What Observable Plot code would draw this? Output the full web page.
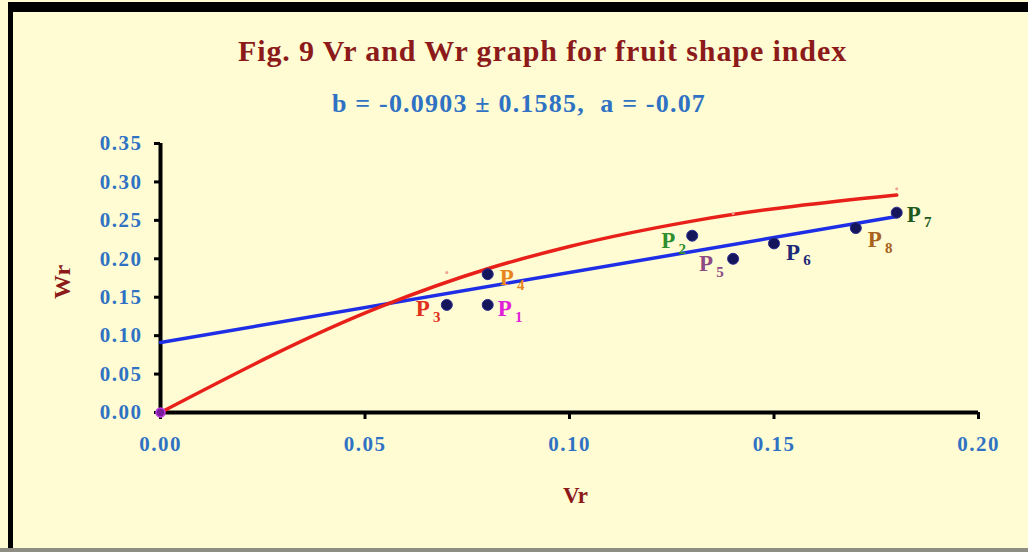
<!DOCTYPE html>
<html>
<head>
<meta charset="utf-8">
<script src="https://cdn.jsdelivr.net/npm/d3@7"></script>
<script src="https://cdn.jsdelivr.net/npm/@observablehq/plot@0.6"></script>
<style>
  body { margin: 0; background: #ffffff; }
  #card {
    position: relative; width: 1028px; height: 552px; overflow: hidden;
    background: #FFFCD3; font-family: "Liberation Serif", "Times New Roman", serif;
  }
  #card .edge { position: absolute; background: #000; }
  #header { position: relative; height: 120px; }
  #title {
    position: absolute; left: 0; width: 1085px; top: 34px; text-align: center;
    font-weight: bold; font-size: 30px; line-height: 34px; letter-spacing: 0.9px; color: #8C1A1A;
  }
  #subtitle {
    position: absolute; left: 0; width: 1038px; top: 89px; text-align: center;
    font-weight: bold; font-size: 26px; line-height: 30px; letter-spacing: 1.2px; color: #2F72C4;
  }
  #chart svg { display: block; }
</style>
</head>
<body>
<div id="card">
  <div id="header">
    <div id="title">Fig. 9 Vr and Wr graph for fruit shape index</div>
    <div id="subtitle">b = -0.0903 ± 0.1585,&nbsp; a = -0.07</div>
  </div>
  <div id="chart"></div>
  <div class="edge" style="left:8px;top:2px;width:1020px;height:10px;"></div>
  <div class="edge" style="left:8px;top:2px;width:5px;height:546px;"></div>
  <div class="edge" style="left:0;top:548px;width:1028px;height:4px;background:#8d8d84;"></div>
</div>
<script>
// Parent lines: variance (Vr) and parent–offspring covariance (Wr)
const parentNames = ["1", "2", "3", "4", "5", "6", "7", "8"];
const parentVr = [0.08, 0.13, 0.07, 0.08, 0.14, 0.15, 0.18, 0.17];
const parentWr = [0.14, 0.23, 0.14, 0.18, 0.20, 0.22, 0.26, 0.24];

// Limiting parabola, smoothed through these points
const parabolaVr = [0, 0.054, 0.08, 0.10, 0.13, 0.18];
const parabolaWr = [0, 0.138, 0.187, 0.216, 0.249, 0.283];

// Small markers sitting on the parabola
const markerVr = [0.07, 0.14, 0.18];
const markerWr = [0.182, 0.259, 0.291];

// Fitted regression line of Wr on Vr
const regressionVr = [0, 0.18];
const regressionWr = [0.091, 0.255];

// Origin marker
const originVr = [0];
const originWr = [0];

// Axis ticks
const xTicks = [0, 0.05, 0.10, 0.15, 0.20];
const yTicks = [0, 0.05, 0.10, 0.15, 0.20, 0.25, 0.30, 0.35];

// Label colours and placement for each parent (order follows parentNames)
const labelColors = ["#E020D8", "#2E8F2E", "#E0301C", "#E8841E", "#8E4A86", "#1C2A78", "#1E5A1E", "#A8621C"];
const labelOffsets = [[17, 4], [-24, 5], [-24, 4], [19, 3], [-27, 5], [19, 9], [17, 2], [19, 12]];

const parents = parentNames.map((n, i) => ({ name: n, Vr: parentVr[i], Wr: parentWr[i] }));
const parabola = parabolaVr.map((v, i) => ({ Vr: v, Wr: parabolaWr[i] }));
const markers = markerVr.map((v, i) => ({ Vr: v, Wr: markerWr[i] }));
const regression = regressionVr.map((v, i) => ({ Vr: v, Wr: regressionWr[i] }));
const origin = originVr.map((v, i) => ({ Vr: v, Wr: originWr[i] }));

const serif = "Liberation Serif";
const tickBlue = "#2F72C4";
const axisRed = "#8C1A1A";

const labelMarks = parents.flatMap((p, i) => {
  const [dx, dy] = labelOffsets[i];
  return [
    Plot.text([p], { x: "Vr", y: "Wr", text: () => "P", dx, dy,
      fill: labelColors[i], fontFamily: serif, fontWeight: "bold", fontSize: 23 }),
    Plot.text([p], { x: "Vr", y: "Wr", text: "name", dx: dx + 14, dy: dy + 8,
      fill: labelColors[i], fontFamily: serif, fontWeight: "bold", fontSize: 15 })
  ];
});

const tickText = { fill: tickBlue, fontSize: 21, fontWeight: "bold", fontFamily: serif };

const chart = Plot.plot({
  width: 1028,
  height: 432,
  marginTop: 23,
  marginBottom: 140,
  marginLeft: 160,
  marginRight: 50,
  style: { background: "transparent", fontFamily: serif, overflow: "visible" },
  x: { domain: [0, 0.2], axis: null },
  y: { domain: [0, 0.35], axis: null },
  marks: [
    Plot.axisX({ ticks: xTicks, tickFormat: d3.format(".2f"), tickSize: 7, tickPadding: 17, label: null,
      stroke: "#000", strokeWidth: 3, ...tickText }),
    Plot.axisY({ ticks: yTicks, tickFormat: d3.format(".2f"), tickSize: 6, tickPadding: 12, label: null,
      stroke: "#000", strokeWidth: 3, ...tickText }),
    Plot.ruleY([0], { stroke: "#000", strokeWidth: 4 }),
    Plot.ruleX([0], { stroke: "#000", strokeWidth: 4 }),
    Plot.text(["Vr"], { frameAnchor: "bottom", dx: 6, dy: 90, fill: axisRed,
      fontSize: 23, fontWeight: "bold", fontFamily: serif }),
    Plot.text(["Wr"], { frameAnchor: "left", rotate: -90, dx: -98, dy: 21, fill: axisRed,
      fontSize: 24, fontWeight: "bold", fontFamily: serif }),
    Plot.line(regression, { x: "Vr", y: "Wr", stroke: "#1E2EE6", strokeWidth: 3.5 }),
    Plot.line(parabola, { x: "Vr", y: "Wr", curve: "monotone-x", stroke: "#E8201A", strokeWidth: 3.5 }),
    Plot.dot(markers, { x: "Vr", y: "Wr", r: 1.5, fill: "#F0A090" }),
    Plot.dot(parents, { x: "Vr", y: "Wr", r: 5.5, fill: "#15155C", stroke: "#2A2A90", strokeWidth: 1 }),
    Plot.dot(origin, { x: "Vr", y: "Wr", r: 4.5, fill: "#7A1C9C", stroke: "#C040E8", strokeWidth: 1.5 }),
    ...labelMarks
  ]
});

// Wide-set numerals on the tick labels
d3.select(chart).selectAll("g[aria-label$='tick label'] text").style("letter-spacing", "1.5px");

document.getElementById("chart").append(chart);
</script>
</body>
</html>
